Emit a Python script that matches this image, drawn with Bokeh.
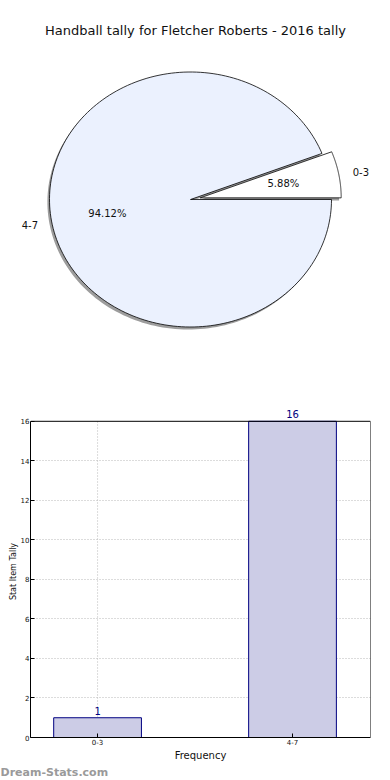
import numpy as np
from bokeh.plotting import figure
from bokeh.models import Range1d, FixedTicker, Label, ColumnDataSource, Title
from bokeh.layouts import column, row
from bokeh.embed import file_html
from bokeh.resources import INLINE
from bokeh.core.properties import value

# ---------------- data ----------------
title_text = "Handball tally for Fletcher Roberts - 2016 tally"
categories = ["0-3", "4-7"]
counts = [1, 16]
explode = [0.07, 0.0]
pie_colors = ["#FFFFFF", "#EBF1FE"]
y_ticks = [0, 2, 4, 6, 8, 10, 12, 14, 16]
x_label = "Frequency"
y_label = "Stat Item Tally"
watermark = "Dream-Stats.com"

FONT = "DejaVu Sans"
W = 388
PIE_H = 395
BAR_H = 383
BL = 30            # bar frame left border
FR = 370           # bar frame right

# ---------------- pie (elliptical, matplotlib-like) ----------------
RX, RY = 141.0, 127.5     # pixel radii
CX, CY = 190.0, 199.0     # pie centre in canvas px (from left / top)

pie = figure(width=W, height=PIE_H,
             x_range=Range1d(-CX / RX, (W - CX) / RX),
             y_range=Range1d(-(PIE_H - CY) / RY, CY / RY),
             output_backend="svg", toolbar_location=None,
             x_axis_location=None, y_axis_location=None, min_border=0)
pie.grid.visible = False
pie.outline_line_color = None
pie.background_fill_color = "white"

total = float(sum(counts))
fracs = [c / total for c in counts]
starts = np.cumsum([0.0] + fracs[:-1]) * 2 * np.pi
ends = np.cumsum(fracs) * 2 * np.pi

slice_xs, slice_ys, shadow_xs, shadow_ys = [], [], [], []
for a0, a1, ex in zip(starts, ends, explode):
    mid = 0.5 * (a0 + a1)
    ox, oy = ex * np.cos(mid), ex * np.sin(mid)
    th = np.linspace(a0, a1, 200)
    xs = [ox] + list(ox + np.cos(th))
    ys = [oy] + list(oy + np.sin(th))
    slice_xs.append(xs)
    slice_ys.append(ys)
    shadow_xs.append([x - 0.015 for x in xs])
    shadow_ys.append([y - 0.02 for y in ys])

pie.patches(xs=shadow_xs, ys=shadow_ys, fill_color="#4c4c4c", fill_alpha=0.55,
            line_color=None)
pie.patches(xs=slice_xs, ys=slice_ys, fill_color=pie_colors,
            line_color="black", line_width=0.8)

for a0, a1, ex, cat, c in zip(starts, ends, explode, categories, counts):
    mid = 0.5 * (a0 + a1)
    ox, oy = ex * np.cos(mid), ex * np.sin(mid)
    pie.text(x=[ox + 0.6 * np.cos(mid)], y=[oy + 0.6 * np.sin(mid)],
             text=["%.2f%%" % (c / total * 100)],
             text_font=value(FONT), text_font_size="10px", text_color="#111111",
             text_align="center", text_baseline="middle")
    pie.text(x=[ox + 1.1 * np.cos(mid)], y=[oy + 1.1 * np.sin(mid)],
             text=[cat], text_font=value(FONT), text_font_size="10px",
             text_color="#111111",
             text_align="left" if np.cos(mid) >= 0 else "right",
             text_baseline="middle")

pie.add_layout(Label(x=195, y=PIE_H - 30, x_units="screen", y_units="screen",
                     text=title_text, text_font=FONT, text_font_size="13px",
                     text_color="#111111", text_align="center",
                     text_baseline="middle"))

# ---------------- bar chart ----------------
xpos = list(range(len(categories)))
X0, X1 = -0.344, len(categories) - 1 + 0.4
YMAX = max(y_ticks)
bar = figure(width=W, height=BAR_H, x_range=Range1d(X0, X1),
             y_range=Range1d(0, YMAX + 0.8), output_backend="svg",
             toolbar_location=None, min_border_top=10, min_border_right=W - FR,
             min_border_left=BL, min_border_bottom=36)
bar.background_fill_color = "white"
bar.outline_line_color = None

# dotted grid limited to the data box
bar.xgrid.visible = False
bar.ygrid.ticker = FixedTicker(ticks=y_ticks[1:-1])
bar.ygrid.grid_line_color = "#b8b8b8"
bar.ygrid.grid_line_dash = "1 2"
bar.segment(x0=xpos, y0=[0] * len(xpos), x1=xpos, y1=[YMAX] * len(xpos),
            line_color="#b8b8b8", line_dash="1 2", line_width=1)

src = ColumnDataSource(dict(x=xpos, top=counts, lbl=[str(c) for c in counts]))
bar.vbar(x="x", top="top", width=0.45, source=src, fill_color="#CCCCE6",
         line_color="#000080", line_width=1)
bar.text(x="x", y="top", text="lbl", source=src, y_offset=-3,
         text_align="center", text_baseline="bottom",
         text_font=value(FONT), text_font_size="10px", text_color="#000080")

# frame box (top and right edges) at the data limits
bar.line(x=[X0, X1, X1], y=[YMAX, YMAX, 0], line_color="black", line_width=1)

bar.xaxis.ticker = FixedTicker(ticks=xpos)
bar.xaxis.major_label_overrides = {i: c for i, c in zip(xpos, categories)}
bar.yaxis.ticker = FixedTicker(ticks=y_ticks)
bar.yaxis.bounds = (0, YMAX)
for ax in (bar.xaxis, bar.yaxis):
    ax.major_label_text_font = FONT
    ax.major_label_text_font_size = "7px"
    ax.major_label_text_color = "#111111"
    ax.major_tick_in = 4
    ax.major_tick_out = 0
    ax.minor_tick_line_color = None
    ax.axis_line_color = "black"
    ax.major_label_standoff = 1
    ax.axis_label_text_font = FONT
    ax.axis_label_text_font_style = "normal"
    ax.axis_label_text_color = "#111111"
bar.xaxis.axis_label = x_label
bar.xaxis.axis_label_text_font_size = "10px"
bar.xaxis.axis_label_standoff = 2
bar.yaxis.axis_label = y_label
bar.yaxis.axis_label_text_font_size = "8px"
bar.yaxis.axis_label_standoff = 0

bar.add_layout(Title(text=watermark, align="left", offset=-BL, standoff=0,
                     text_font=FONT, text_font_size="11px",
                     text_font_style="bold", text_color="#9a9a9a"), "below")

layout = column(row(pie), row(bar), spacing=0)
open("out.html", "w").write(file_html(layout, INLINE))
